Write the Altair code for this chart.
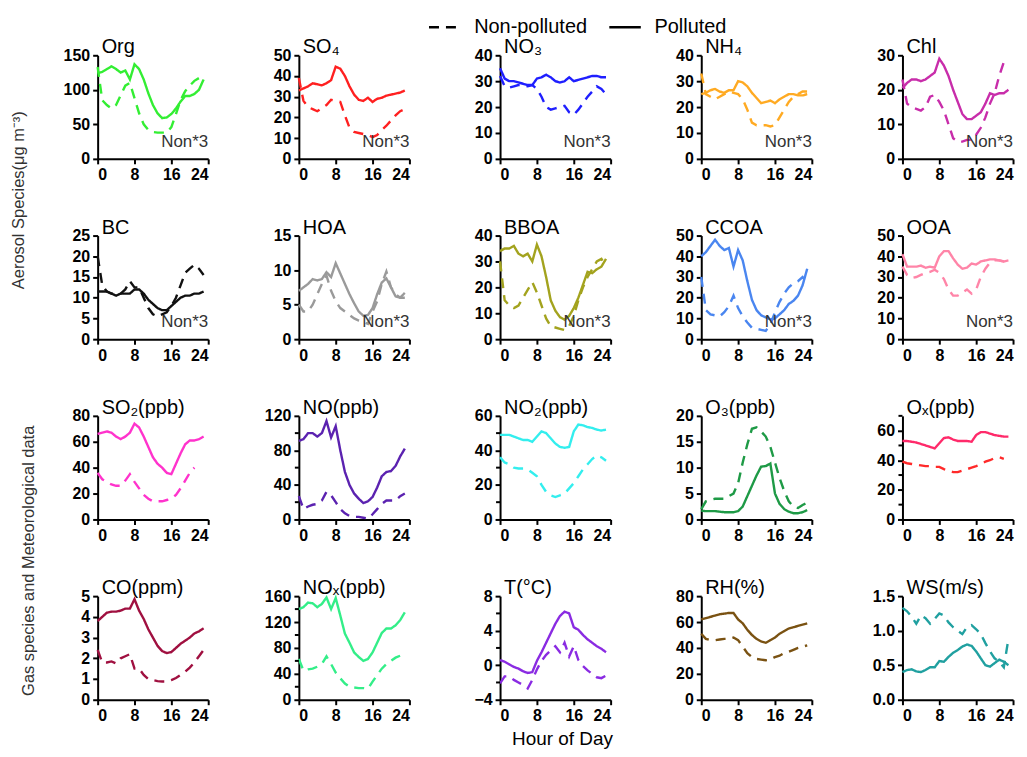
import altair as alt
import pandas as pd

FONT = "Liberation Sans"
HOURS = list(range(24))
X_TICKS = [0, 8, 16, 24]

# ---------------- data (hour 0..23) ----------------
org_pol = [124, 126, 130, 134, 130, 125, 128, 115, 137, 130, 115, 95, 78, 66, 59, 60, 65, 73, 83, 91, 91, 94, 100, 115]
org_non = [133, 85, 78, 73, 78, 92, 106, 110, 88, 66, 50, 42, 39, 38, 38, 38, 46, 65, 85, 98, 106, 113, 117, None]
so4_pol = [33, 34, 35, 36.5, 36, 35.5, 36.5, 38, 44.5, 43.5, 40, 35, 31, 28.5, 28, 29.5, 27.5, 29, 29.5, 30.5, 31, 31.5, 32, 33]
so4_non = [39, 28, 25, 24, 23, 24.5, 26, 28.5, 28, 27.5, 21, 15, 13, 12.5, 12, 11.5, 10.5, 11.5, 14, 16, 18.5, 21, 23, 24]
no3_pol = [35, 31, 30, 30, 29.5, 29, 28.5, 28.5, 31, 31.5, 32.5, 31.5, 30, 29.5, 30, 31.5, 30, 30.5, 31, 31.5, 32, 32, 31.5, 31.5]
no3_non = [32, 28, 27.5, 28, 28.5, 28.5, 28, 28.5, 27, 24, 20, 19, 19.5, 20, 20.5, 18, 17, 19, 21.5, 24, 26, 28, 27, 25]
nh4_pol = [25, 25.5, 26.5, 27, 26, 25.5, 26.5, 26.5, 30, 29.5, 28, 25.5, 23.5, 21.5, 22, 22.5, 21.5, 23, 24, 25, 25, 24.5, 24.5, 25]
nh4_non = [33, 25, 24, 23, 24, 25, 26, 25.5, 25, 23, 19, 14, 13, 13, 13, 12.5, 13, 16, 19, 22, 24, 25, 26, 26]
chl_pol = [20.5, 22, 23, 23, 22.5, 23, 24, 25, 29, 27, 24, 20, 16.5, 13, 11.5, 11.5, 12.5, 13.5, 16, 19, 18.5, 19, 19, 20]
chl_non = [23, 16, 15, 14.5, 14, 15, 18, 18.5, 16.5, 14, 10, 6, 5, 5, 5.5, 5.5, 7, 9, 12, 16, 19, 24, 28, None]
bc_pol = [11.5, 11.5, 11.5, 11, 10.5, 11, 11, 11, 12, 12, 11, 9.5, 8.5, 7.5, 7, 7, 8, 9, 10, 10.5, 10.5, 11, 11, 11.5]
bc_non = [20, 13, 11.5, 11, 11, 11, 12, 14, 12.5, 12.5, 10, 7.5, 6, 5.5, 6, 6.5, 8, 10, 13, 16, 17, 18, 17, 15.5]
hoa_pol = [7, 7.5, 8, 8.7, 8.5, 8.7, 9.7, 9, 11, 9.5, 8, 6.5, 5.2, 4, 3.4, 3.5, 4.5, 6.5, 8.2, 8.8, 7.5, 6.2, 6, 6.7]
hoa_non = [5, 4, 4, 5, 6.5, 8, 9.2, 7, 5.5, 4.5, 4, 3.5, 3, 2.7, 2.5, 2.2, 4, 5.5, 8, 9.8, 7.5, 6.5, 6, 6]
bboa_pol = [34, 35, 35, 36, 33, 32, 33, 30, 36.5, 32, 24, 15, 11, 8.5, 7.5, 9, 12, 16, 21, 26, 25.5, 27, 28, 31]
bboa_non = [30, 15, 13, 12, 13, 16, 19, 22, 18, 13, 8, 5, 4.5, 4, 3.5, 5, 9, 15, 20, 24, 27, 30, 31, 28]
ccoa_pol = [40, 42, 45, 48, 45, 43, 44, 35, 43, 38, 28, 19, 14, 11.5, 10.5, 9.5, 10, 12, 14, 17, 18.5, 21, 26, 34]
ccoa_non = [30, 14, 12, 11.5, 11, 13, 16, 21, 15, 11, 8, 5.5, 5, 4.5, 4, 7, 13, 18, 22, 25, 27, 28, 30, 27]
ooa_pol = [41, 35, 35, 35, 35.5, 34.5, 35, 34.5, 40, 42.5, 42.5, 39, 36, 34, 34.5, 36.5, 36, 37.5, 38, 38.5, 38.5, 38, 37.5, 38]
ooa_non = [35, 31, 29.5, 30, 31, 32, 32.5, 33.5, 32, 29, 24, 21, 21, 22.5, 24, 22, 24, 30, 34, 37, 38, 38, 37.5, 37]
so2_pol = [66, 67, 68, 67, 64, 62, 64, 67, 74, 71, 64, 56, 48, 43, 40, 36, 35, 43, 51, 58, 61, 61, 62, 64]
so2_non = [36, 31, 29, 27, 26, 26, 30, 35, 29, 24, 19, 16, 14, 14, 14, 15, 16, 19, 24, 30, 36, 40, None, None]
no_pol = [91, 93, 100, 100, 96, 100, 114, 95, 108, 80, 55, 40, 30, 24, 19, 21, 26, 37, 50, 55, 56, 62, 73, 82]
no_non = [27, 12, 15, 17, 18, 22, 32, 28, 20, 12, 7, 4, 3, 3, 2, 1, 6, 12, 18, 22, 22, 22, 27, 30]
no2_pol = [49, 49, 49, 48, 47, 46, 46, 45, 48, 51, 50, 47, 44, 42, 41.5, 42, 51, 55, 54.5, 53.5, 53, 52, 51.5, 52]
no2_non = [36, 33, 32, 30, 29.5, 29.5, 29, 27, 25, 20, 16, 14, 13, 14, 15, 18, 21, 25, 29, 32, 35, 37, 36, 34]
o3_pol = [1.7, 1.6, 1.6, 1.6, 1.5, 1.4, 1.4, 1.4, 1.6, 2.5, 4.5, 6.5, 8.5, 10.2, 10.3, 10.8, 5, 3, 2, 1.5, 1.2, 1.2, 1.4, 1.8]
o3_non = [2, 3.5, 3.8, 4, 4, 4, 4.5, 5, 7, 11, 14.5, 17.5, 17.8, 17, 16, 14, 11, 8, 5.5, 3.5, 2.5, 2.2, 2.8, 3.2]
ox_pol = [53, 53, 52.5, 52, 51, 50, 49, 48, 51.5, 55, 55.5, 54, 53, 53, 53, 52.5, 57, 59, 59, 58, 57, 56.5, 56, 56]
ox_non = [39, 38, 37.5, 37, 36.5, 36, 36, 35.5, 35.5, 34, 33, 32, 32, 33, 34, 35, 36, 37.5, 39, 40, 41.5, 42, 41, None]
co_pol = [3.8, 4.0, 4.2, 4.25, 4.25, 4.3, 4.4, 4.4, 4.85, 4.3, 3.9, 3.4, 3.0, 2.6, 2.35, 2.25, 2.3, 2.5, 2.7, 2.85, 3.0, 3.2, 3.3, 3.45]
co_non = [2.4, 1.8, 1.8, 1.85, 1.75, 2.0, 2.1, 2.2, 1.5, 1.5, 1.2, 1.0, 0.95, 0.9, 0.88, 0.88, 0.95, 1.05, 1.2, 1.35, 1.55, 1.8, 2.1, 2.4]
nox_pol = [140, 143, 150, 149, 143, 148, 158, 140, 157, 130, 102, 88, 73, 66, 60, 63, 73, 88, 103, 110, 110, 115, 123, 135]
nox_non = [63, 45, 47, 48, 51, 55, 67, 55, 42, 33, 25, 20, 19, 18, 18, 17, 28, 38, 48, 55, 60, 65, 68, 62]
t_pol = [0.6, 0.4, 0.1, -0.2, -0.4, -0.7, -0.9, -0.8, 0.5, 1.5, 2.6, 3.7, 4.8, 5.7, 6.2, 6.0, 4.4, 4.1, 3.5, 3.0, 2.6, 2.2, 1.9, 1.5]
t_non = [-2.1, -1.3, -1.3, -1.7, -2.0, -2.3, -2.7, -1.7, -0.5, 0.5, 1.2, 1.7, 2.2, 1.5, 2.6, 1.0, 2.2, 0.6, -0.1, -0.6, -1.0, -1.4, -1.5, -1.2]
rh_pol = [62, 63, 64, 65, 66, 66.5, 67, 67, 62, 59, 54, 50, 47, 45, 44, 46, 48, 51, 53, 55, 56, 57, 58, 59]
rh_non = [51, 47, 46, 46, 46.5, 47, 47, 48, 46, 41, 36, 33, 31.5, 31, 30.5, 31, 33, 34, 36, 37, 38.5, 40, 41, 42]
ws_pol = [0.40, 0.43, 0.44, 0.41, 0.40, 0.43, 0.47, 0.47, 0.56, 0.55, 0.62, 0.68, 0.72, 0.77, 0.80, 0.78, 0.70, 0.60, 0.50, 0.48, 0.53, 0.58, 0.55, 0.50]
ws_non = [1.33, 1.28, 1.20, 1.10, 1.22, 1.18, 1.10, 1.17, 1.25, 1.22, 1.12, 1.05, 1.00, 0.95, 1.05, 1.08, 1.02, 0.95, 0.82, 0.70, 0.60, 0.55, 0.47, 0.88]

# ---------------- panel definitions ----------------
PANELS = [
    [
        dict(title="Org", pol=org_pol, non=org_non, c="#33ee33", lo=0, hi=150, ticks=[0, 50, 100, 150], non3=True),
        dict(title="SO₄", pol=so4_pol, non=so4_non, c="#ff2020", lo=0, hi=50, ticks=[0, 10, 20, 30, 40, 50], non3=True),
        dict(title="NO₃", pol=no3_pol, non=no3_non, c="#1f1fff", lo=0, hi=40, ticks=[0, 10, 20, 30, 40], non3=True),
        dict(title="NH₄", pol=nh4_pol, non=nh4_non, c="#ffaa22", lo=0, hi=40, ticks=[0, 10, 20, 30, 40], non3=True),
        dict(title="Chl", pol=chl_pol, non=chl_non, c="#c82daa", lo=0, hi=30, ticks=[0, 10, 20, 30], non3=True),
    ],
    [
        dict(title="BC", pol=bc_pol, non=bc_non, c="#111111", lo=0, hi=25, ticks=[0, 5, 10, 15, 20, 25], non3=True),
        dict(title="HOA", pol=hoa_pol, non=hoa_non, c="#9a9a9a", lo=0, hi=15, ticks=[0, 5, 10, 15], non3=True),
        dict(title="BBOA", pol=bboa_pol, non=bboa_non, c="#a3a31e", lo=0, hi=40, ticks=[0, 10, 20, 30, 40], non3=True),
        dict(title="CCOA", pol=ccoa_pol, non=ccoa_non, c="#4a86f0", lo=0, hi=50, ticks=[0, 10, 20, 30, 40, 50], non3=True),
        dict(title="OOA", pol=ooa_pol, non=ooa_non, c="#ff85a8", lo=0, hi=50, ticks=[0, 10, 20, 30, 40, 50], non3=True),
    ],
    [
        dict(title="SO₂(ppb)", pol=so2_pol, non=so2_non, c="#ff33cc", lo=0, hi=80, ticks=[0, 20, 40, 60, 80]),
        dict(title="NO(ppb)", pol=no_pol, non=no_non, c="#5b22b0", lo=0, hi=120, ticks=[0, 40, 80, 120], minor=[20, 60, 100]),
        dict(title="NO₂(ppb)", pol=no2_pol, non=no2_non, c="#33eeee", lo=0, hi=60, ticks=[0, 20, 40, 60], minor=[10, 30, 50]),
        dict(title="O₃(ppb)", pol=o3_pol, non=o3_non, c="#1e9a46", lo=0, hi=20, ticks=[0, 5, 10, 15, 20]),
        dict(title="Oₓ(ppb)", pol=ox_pol, non=ox_non, c="#ff2a6a", cn="#ff2a2a", lo=0, hi=70, ticks=[0, 20, 40, 60], minor=[10, 30, 50, 70]),
    ],
    [
        dict(title="CO(ppm)", pol=co_pol, non=co_non, c="#a01040", lo=0, hi=5, ticks=[0, 1, 2, 3, 4, 5]),
        dict(title="NOₓ(ppb)", pol=nox_pol, non=nox_non, c="#33ee88", lo=0, hi=160, ticks=[0, 40, 80, 120, 160], minor=[20, 60, 100, 140]),
        dict(title="T(°C)", pol=t_pol, non=t_non, c="#8a2be2", lo=-4, hi=8, ticks=[-4, 0, 4, 8], minor=[-2, 2, 6]),
        dict(title="RH(%)", pol=rh_pol, non=rh_non, c="#7a5212", lo=0, hi=80, ticks=[0, 20, 40, 60, 80]),
        dict(title="WS(m/s)", pol=ws_pol, non=ws_non, c="#20a0a0", lo=0, hi=1.5, ticks=[0, 0.5, 1.0, 1.5], fmt=".1f"),
    ],
]

W, H = 111, 104


def make_panel(p):
    n = len(HOURS)
    df = pd.DataFrame({
        "hour": HOURS + HOURS,
        "value": list(p["pol"]) + list(p["non"]),
        "type": ["Polluted"] * n + ["Non-polluted"] * n,
    }).dropna()
    x = alt.X("hour:Q", scale=alt.Scale(domain=[0, 24], nice=False),
              axis=alt.Axis(values=X_TICKS, title=None, format="d"))
    y = alt.Y("value:Q", scale=alt.Scale(domain=[p["lo"], p["hi"]], nice=False, zero=False),
              axis=alt.Axis(values=p["ticks"], title=None, format=p.get("fmt", "d")))
    dash = alt.StrokeDash(
        "type:N",
        scale=alt.Scale(domain=["Non-polluted", "Polluted"], range=[[10, 7], [1, 0]]),
        legend=alt.Legend(title=None, symbolStrokeColor="black"),
    )
    layers = []
    for t, col in (("Non-polluted", p.get("cn", p["c"])), ("Polluted", p["c"])):
        layers.append(
            alt.Chart(df).transform_filter(alt.datum.type == t)
            .mark_line(color=col, strokeWidth=2.4)
            .encode(x=x, y=y, strokeDash=dash)
        )
    if p.get("minor"):
        mdf = pd.DataFrame({"value": p["minor"]})
        layers.append(
            alt.Chart(mdf).mark_rule(color="black", strokeWidth=2)
            .encode(y=y, x=alt.value(-4), x2=alt.value(0))
        )
    if p.get("non3"):
        layers.append(
            alt.Chart(pd.DataFrame({"t": ["Non*3"]}))
            .mark_text(align="right", baseline="alphabetic", fontSize=17, font=FONT, color="#333333")
            .encode(text="t:N", x=alt.value(W), y=alt.value(92))
        )
    # panel title drawn as text just inside the top-left corner
    layers.append(
        alt.Chart(pd.DataFrame({"t": [p["title"]]}))
        .mark_text(align="left", baseline="alphabetic", fontSize=20, font=FONT, color="black")
        .encode(text="t:N", x=alt.value(4), y=alt.value(-2))
    )
    return alt.layer(*layers).properties(width=W, height=H)


rows = [alt.hconcat(*[make_panel(p) for p in row], spacing=54) for row in PANELS]

sec1 = alt.vconcat(rows[0], rows[1], spacing=35,
                   title=alt.TitleParams("Aerosol Species(μg m⁻³)", orient="left", anchor="middle",
                                         fontSize=16.5, font=FONT, fontWeight="normal",
                                         color="#333333", offset=34))
sec2 = alt.vconcat(rows[2], rows[3], spacing=35,
                   title=alt.TitleParams("Gas species and Meteorological data", orient="left",
                                         anchor="middle", fontSize=16.5, font=FONT,
                                         fontWeight="normal", color="#333333", offset=24))

chart = alt.vconcat(
    sec1, sec2, spacing=35,
    title=alt.TitleParams("Hour of Day", orient="bottom", anchor="middle", fontSize=19,
                          font=FONT, fontWeight="normal", color="black", dx=50, offset=6),
).resolve_scale(strokeDash="shared").configure_axis(
    domainColor="black", domainWidth=2, tickColor="black", tickWidth=2, tickSize=5,
    labelFont=FONT, labelFontSize=16, labelFontWeight="bold", labelColor="black",
    grid=False, labelPadding=3,
).configure_axisY(minExtent=36, maxExtent=36).configure_view(stroke=None).configure_legend(
    orient="none", legendX=331, legendY=-46, direction="horizontal",
    labelFont=FONT, labelFontSize=20, labelColor="black", symbolType="stroke",
    symbolStrokeColor="black", symbolStrokeWidth=2.5, symbolSize=1000, columnPadding=16,
    labelOffset=12,
).properties(padding={"left": 3, "top": 0, "right": 5, "bottom": 0})

chart.save("out.html", embed_options={"renderer": "svg", "actions": False})
